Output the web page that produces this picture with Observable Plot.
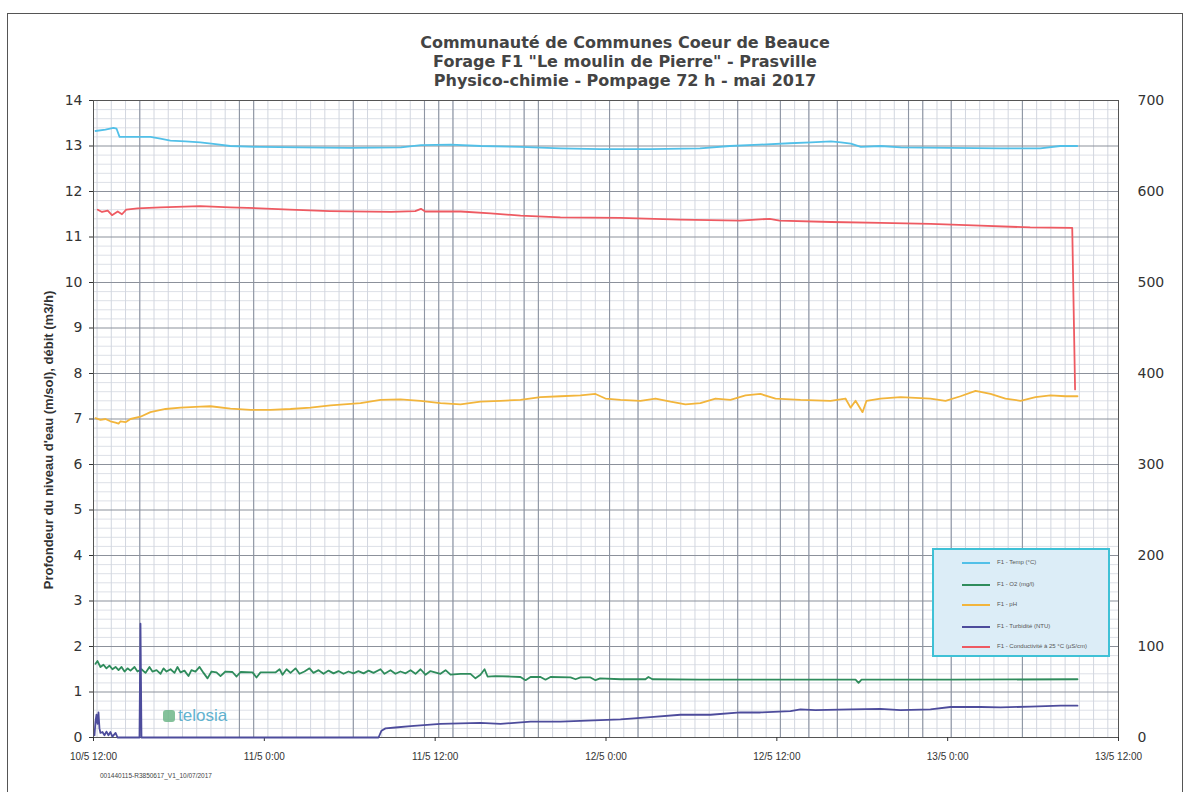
<!DOCTYPE html>
<html><head><meta charset="utf-8">
<script src="https://cdn.jsdelivr.net/npm/d3@7"></script>
<script src="https://cdn.jsdelivr.net/npm/@observablehq/plot@0.6"></script>
<style>
body{margin:0;background:#fff;width:1192px;height:792px;overflow:hidden;position:relative;font-family:"DejaVu Sans",sans-serif}
#frame{position:absolute;left:7px;top:13px;width:1176px;height:795px;border:1px solid #555;box-sizing:border-box}
#title{position:absolute;left:0;width:1250px;top:33px;text-align:center;font-weight:bold;font-size:16px;line-height:19px;color:#444}
#chart{position:absolute;left:0;top:0}
#ytitle{position:absolute;left:48px;top:440px;transform:translate(-50%,-50%) rotate(-90deg);white-space:nowrap;font-family:"Liberation Sans",sans-serif;font-weight:bold;font-size:13px;color:#333}
#legend{position:absolute;left:932px;top:548px;width:178px;height:109px;background:#dcedf7;border:2px solid #3fc1d6;box-sizing:border-box}
.lrow{position:absolute;left:0;height:10px;width:170px}
.lline{position:absolute;left:28px;top:4px;width:28px;height:2px}
.ltext{position:absolute;left:63px;top:1px;font-family:"Liberation Sans",sans-serif;font-size:6px;color:#555;white-space:nowrap}
#footer{position:absolute;left:100px;top:772px;font-family:"Liberation Sans",sans-serif;font-size:6.5px;color:#444}
#logo{position:absolute;left:163px;top:706px;font-family:"Liberation Sans",sans-serif;font-size:17px;color:#47a6c8;opacity:0.85}
#logo .ic{display:inline-block;width:12px;height:12px;background:#6fb78a;border-radius:3px;margin-right:3px;vertical-align:-1px}
</style></head>
<body>
<div id="frame"></div>
<div id="chart"></div>
<div id="title">Communauté de Communes Coeur de Beauce<br>Forage F1 "Le moulin de Pierre" - Prasville<br>Physico-chimie - Pompage 72 h - mai 2017</div>
<div id="ytitle">Profondeur du niveau d'eau (m/sol), débit (m3/h)</div>
<div id="legend"></div>
<div id="logo"><span class="ic"></span>telosia</div>
<div id="footer">001440115-R3850617_V1_10/07/2017</div>
<script>
// time in hours since 10/5 12:00
const xTickHours = [0, 12, 24, 36, 48, 60, 72];
const xTickLabels = ["10/5 12:00", "11/5 0:00", "11/5 12:00", "12/5 0:00", "12/5 12:00", "13/5 0:00", "13/5 12:00"];
const leftTicks = [0,1,2,3,4,5,6,7,8,9,10,11,12,13,14];
const rightTicks = [0,100,200,300,400,500,600,700];
const darkGridHours = [3.25,10.25,11.25,18.25,23.25,24.25,25.25,30.25,31.25,36.25,38.25,45.25,48.25,50.25,52.25,57.25,58.25,60.25,65.25];

const seriesNames = ["F1 - Temp (°C)", "F1 - O2 (mg/l)", "F1 - pH", "F1 - Turbidité (NTU)", "F1 - Conductivité à 25 °C (µS/cm)"];
const seriesColors = ["#52c0e8", "#2f8c5c", "#f2b53c", "#4d4c9c", "#ee5a62"];

const temp = [[0.14,13.33],[0.84,13.36],[1.40,13.40],[1.62,13.38],[1.83,13.2],[2.6,13.2],[4.0,13.2],[4.7,13.16],[5.4,13.12],[6.46,13.1],[7.5,13.08],[8.57,13.04],[9.6,13.0],[11.7,12.98],[14.5,12.97],[18.0,12.96],[21.6,12.97],[23.0,13.02],[25.1,13.03],[27.2,13.0],[30.0,12.98],[32.8,12.95],[35.6,12.93],[39.1,12.93],[42.6,12.95],[44.7,13.0],[46.8,13.03],[48.9,13.06],[50.4,13.08],[51.8,13.1],[52.5,13.08],[53.2,13.05],[53.9,12.98],[55.3,13.0],[56.7,12.97],[60.2,12.96],[63.7,12.95],[66.5,12.95],[67.9,13.0],[69.1,13.0]];

const o2 = [[0.14,1.62],[0.28,1.68],[0.49,1.55],[0.70,1.6],[0.91,1.52],[1.12,1.58],[1.33,1.5],[1.55,1.55],[1.76,1.48],[1.97,1.55],[2.18,1.45],[2.39,1.52],[2.60,1.47],[2.88,1.55],[3.09,1.45],[3.37,1.5],[3.65,1.42],[3.93,1.55],[4.14,1.45],[4.43,1.48],[4.71,1.4],[4.92,1.52],[5.13,1.45],[5.41,1.5],[5.69,1.42],[5.90,1.55],[6.11,1.43],[6.39,1.47],[6.67,1.35],[6.88,1.48],[7.16,1.45],[7.45,1.55],[7.73,1.42],[8.01,1.3],[8.29,1.45],[8.64,1.43],[8.92,1.35],[9.27,1.45],[9.76,1.44],[10.05,1.34],[10.33,1.44],[11.17,1.43],[11.45,1.32],[11.73,1.43],[12.78,1.43],[13.07,1.5],[13.28,1.38],[13.56,1.5],[13.84,1.42],[14.19,1.52],[14.47,1.4],[14.82,1.45],[15.17,1.52],[15.45,1.42],[15.81,1.48],[16.16,1.4],[16.51,1.47],[16.86,1.41],[17.21,1.46],[17.56,1.4],[17.91,1.45],[18.26,1.41],[18.61,1.46],[18.97,1.41],[19.32,1.47],[19.67,1.42],[20.16,1.5],[20.44,1.4],[20.86,1.48],[21.21,1.4],[21.56,1.45],[21.92,1.41],[22.27,1.48],[22.62,1.4],[22.97,1.5],[23.32,1.38],[23.67,1.46],[24.37,1.4],[24.73,1.48],[25.08,1.38],[25.78,1.4],[26.48,1.4],[26.83,1.3],[27.18,1.38],[27.47,1.5],[27.68,1.34],[28.24,1.35],[29.29,1.34],[29.99,1.33],[30.35,1.26],[30.70,1.33],[31.40,1.33],[31.75,1.27],[32.10,1.33],[33.51,1.32],[33.86,1.28],[34.21,1.32],[34.91,1.32],[35.26,1.26],[35.59,1.3],[37.02,1.28],[38.77,1.28],[38.98,1.33],[39.26,1.28],[42.63,1.27],[49.66,1.27],[53.53,1.27],[53.74,1.2],[53.95,1.27],[60.20,1.27],[69.12,1.28]];

const ph = [[0.14,7.02],[0.49,6.98],[0.84,7.0],[1.19,6.95],[1.55,6.92],[1.76,6.9],[1.90,6.95],[2.25,6.93],[2.60,7.0],[3.30,7.05],[4.00,7.15],[5.06,7.22],[6.11,7.25],[7.52,7.27],[8.22,7.28],[9.62,7.23],[11.03,7.2],[12.43,7.2],[13.84,7.22],[15.24,7.25],[16.65,7.3],[18.76,7.35],[20.16,7.42],[21.56,7.43],[22.97,7.4],[24.37,7.35],[25.78,7.32],[27.18,7.38],[28.59,7.4],[29.99,7.42],[31.40,7.48],[32.80,7.5],[34.21,7.52],[35.26,7.55],[35.96,7.45],[37.02,7.42],[38.42,7.4],[39.48,7.45],[40.53,7.38],[41.58,7.32],[42.63,7.35],[43.69,7.45],[44.74,7.42],[45.80,7.52],[46.85,7.55],[47.91,7.45],[49.66,7.42],[51.77,7.4],[52.82,7.45],[53.18,7.25],[53.53,7.4],[54.02,7.15],[54.30,7.4],[55.28,7.45],[56.69,7.48],[58.79,7.45],[59.85,7.4],[60.90,7.5],[61.96,7.62],[63.01,7.55],[64.06,7.45],[65.12,7.4],[66.17,7.48],[67.22,7.52],[68.28,7.5],[69.12,7.5]];

const turb = [[0.07,0.05],[0.14,0.35],[0.21,0.5],[0.28,0.3],[0.35,0.55],[0.42,0.2],[0.49,0.1],[0.63,0.12],[0.77,0.05],[0.91,0.13],[1.05,0.05],[1.19,0.12],[1.33,0.02],[1.55,0.1],[1.69,0.0],[3.23,0.0],[3.30,2.5],[3.37,0.0],[20.02,0.0],[20.23,0.15],[20.51,0.2],[21.21,0.22],[22.27,0.25],[24.37,0.3],[27.18,0.32],[28.59,0.3],[30.70,0.35],[32.80,0.35],[35.61,0.38],[37.02,0.4],[39.13,0.45],[41.23,0.5],[43.34,0.5],[45.45,0.55],[46.85,0.55],[48.96,0.58],[49.66,0.62],[50.71,0.6],[53.18,0.62],[55.28,0.63],[56.69,0.6],[58.79,0.62],[60.20,0.67],[62.31,0.67],[63.71,0.66],[65.82,0.68],[67.93,0.7],[69.12,0.7]];

// conductivity in µS/cm (right axis, 0-700)
const cond = [[0.3,580],[0.6,577.5],[1.0,579],[1.3,574],[1.7,578],[2.0,575],[2.3,580],[3.1,581.5],[4.7,582.5],[7.5,584],[9.6,582.5],[11.7,581.5],[13.8,580],[16.6,578.5],[20.9,577.5],[22.6,578.5],[23.0,581],[23.3,578],[25.8,578],[27.9,576],[30.0,573.5],[32.8,571.5],[37.0,571],[41.2,569],[45.4,568],[47.5,570],[48.2,568],[51.8,566.5],[55.3,565.5],[58.8,564.5],[62.3,562.5],[65.8,560.5],[68.75,560],[68.95,382.5]];

const ratio = 50; // right axis / left axis

const minorX = d3.range(0.25, 72, 1);
const minorY = d3.range(0, 14.001, 0.2).filter(v => Math.abs(v - Math.round(v)) > 0.01);

const lineOpts = (color) => ({x: d => d[0], y: d => d[1], stroke: color, strokeWidth: 1.8});

const chart = Plot.plot({
  width: 1192, height: 792,
  marginTop: 100, marginBottom: 55, marginLeft: 93, marginRight: 74,
  x: {domain: [0, 72], axis: null, label: null},
  y: {domain: [0, 14], axis: null, label: null},
  style: {background: "transparent", color: "#333", overflow: "visible"},
  marks: [
    Plot.ruleY(minorY, {stroke: "#dde0e7", strokeWidth: 1}),
    Plot.ruleX(minorX, {stroke: "#d2d6df", strokeWidth: 1}),
    Plot.ruleX(darkGridHours, {stroke: "#8e95a3", strokeWidth: 1.1}),
    Plot.ruleY(leftTicks, {stroke: "#8c919b", strokeWidth: 1.1}),
    Plot.frame({stroke: "#555", strokeWidth: 1}),
    Plot.axisY({anchor: "left", ticks: leftTicks, tickSize: 4, tickPadding: 7, fontSize: 14, fontFamily: "DejaVu Sans", label: null}),
    Plot.axisY({anchor: "right", ticks: rightTicks.map(v => v / ratio), tickFormat: d => String(Math.round(d * ratio)), tickSize: 0, tickPadding: 19, fontSize: 14, fontFamily: "DejaVu Sans", label: null}),
    Plot.axisX({ticks: xTickHours, tickFormat: d => xTickLabels[xTickHours.indexOf(d)], tickSize: 4, tickPadding: 11, fontSize: 10, fontFamily: "Liberation Sans", label: null}),
    Plot.line(temp, lineOpts(seriesColors[0])),
    Plot.line(o2, lineOpts(seriesColors[1])),
    Plot.line(ph, lineOpts(seriesColors[2])),
    Plot.line(turb, lineOpts(seriesColors[3])),
    Plot.line(cond, {x: d => d[0], y: d => d[1] / ratio, stroke: seriesColors[4], strokeWidth: 1.8})
  ]
});
document.getElementById("chart").appendChild(chart);

const legend = document.getElementById("legend");
const rowTops = [8, 30, 50, 72, 92];
seriesNames.forEach((name, i) => {
  const row = document.createElement("div");
  row.className = "lrow";
  row.style.top = rowTops[i] + "px";
  row.innerHTML = `<span class="lline" style="background:${seriesColors[i]}"></span><span class="ltext">${name}</span>`;
  legend.appendChild(row);
});
</script>
</body></html>
